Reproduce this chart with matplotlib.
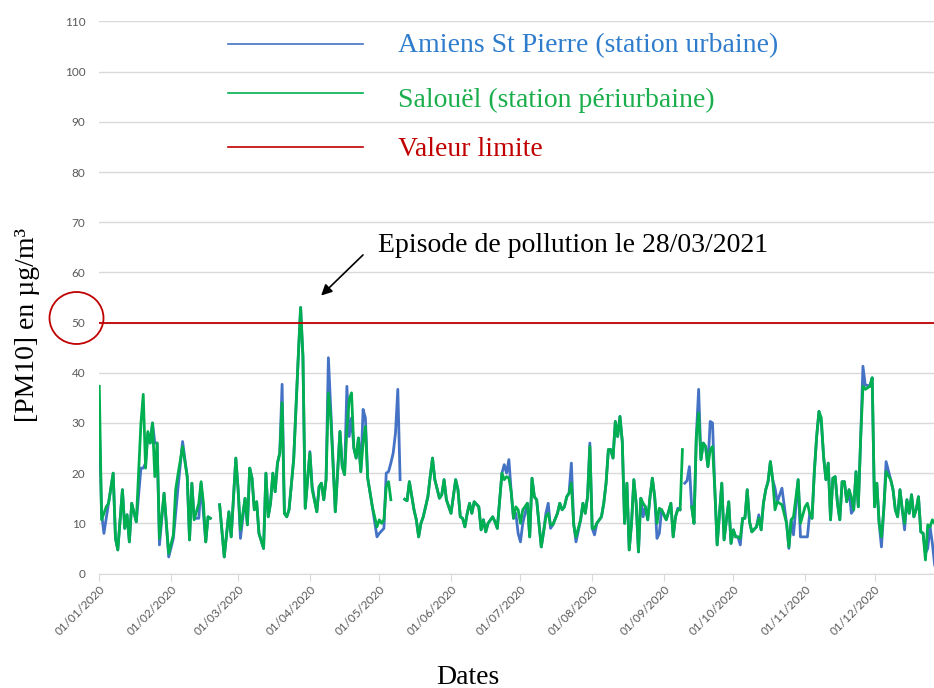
import numpy as np
import matplotlib.pyplot as plt
import matplotlib.dates as mdates
from matplotlib.patches import Ellipse
from matplotlib.lines import Line2D

nan = np.nan

# jour de l'annee (0 = 01/01/2020)
jours = [
    0, 1, 2, 3, 4, 6, 7, 8, 10, 11, 12, 13, 14, 16, 18, 19, 20, 21, 22, 23, 24, 25, 26, 28, 30,
    32, 33, 34, 36, 38, 39, 40, 41, 43, 44, 45, 46, 47, 48, 49, 52, 54, 56, 57, 59,
    60, 61, 63, 64, 65, 66, 67, 68, 69, 71, 72, 73, 74, 75, 76, 77, 78, 79, 80, 81, 82, 84, 86, 87, 88, 89,
    91, 92, 94, 95, 96, 97, 98, 99, 100, 102, 104, 105, 106, 107, 108, 109, 110, 111, 112, 113, 114, 115, 116, 118, 120,
    121, 122, 123, 124, 125, 126, 127, 128, 129, 130, 131, 132, 133, 134, 136, 137, 138, 139, 140, 142, 143, 144, 145, 147, 148, 149, 150,
    152, 154, 155, 156, 157, 158, 159, 160, 161, 162, 164, 165, 166, 167, 168, 170, 171, 172, 174, 175, 176, 177, 178, 179, 180, 181,
    182, 183, 185, 186, 187, 188, 189, 190, 191, 192, 193, 194, 195, 196, 198, 199, 200, 201, 202, 203, 204, 205, 206, 208, 209, 210, 211, 212,
    213, 214, 215, 217, 218, 219, 220, 221, 222, 223, 224, 225, 226, 227, 228, 229, 230, 231, 232, 233, 234, 235, 236, 237, 238, 239, 240, 241, 242, 243,
    245, 246, 247, 248, 249, 250, 251, 252, 253, 254, 255, 256, 257, 258, 259, 260, 261, 262, 263, 264, 265, 266, 267, 269, 270, 271, 272, 273,
    274, 275, 276, 277, 278, 279, 280, 281, 282, 284, 285, 286, 287, 288, 289, 290, 291, 292, 293, 295, 297, 298, 299, 300, 302, 303,
    305, 306, 307, 308, 309, 310, 311, 312, 313, 314, 315, 316, 317, 318, 319, 320, 321, 322, 323, 324, 325, 326, 327, 328, 329, 330, 331, 332, 333, 334,
    335, 336, 337, 338, 339, 340, 342, 343, 344, 345, 346, 347, 348, 349, 350, 351, 352, 353, 354, 355, 356, 357, 358, 359, 360, 361,
]

# Salouel (station periurbaine)
salouel = [
    37.3, 10.7, 12, 13.3, 14, 20, 7, 4.7, 16.7, 9, 11.7, 6.3, 14, 10.3, 30, 35.7, 21, 28.3, 26, 30, 19.3, 26, 7, 16, 4,
    7.7, 16.7, 19.7, 25.3, 19.3, 6.7, 18, 10.7, 14, 18.3, 14, 6.3, 11.3, 11, nan, 13.7, 3.3, 12.3, 7.3, 23,
    16.7, 8.7, 15, 9.7, 21, 19, 12.7, 14.3, 8, 5, 20, 11.3, 14, 20, 16.3, 22, 24, 34, 12, 11.3, 12.7, 22.7, 43.3, 53, 43.3, 13,
    24, 16.7, 12.3, 17.3, 18, 14.7, 18.7, 36, 31.3, 12.3, 28.3, 21.3, 19.7, 28.7, 34.7, 36, 25, 23, 27, 20.3, 26, 29.3, 19, 13.3, 9.3,
    10.7, 10, 10.7, 17.3, 18.3, 14.7, nan, nan, nan, nan, nan, 14.8, 14.5, 18.3, 12.7, 10.7, 7.3, 10, 11.3, 15.3, 19.3, 23, 18.7, 15, 15.7, 18.7, 14.7,
    12, 18.7, 16.7, 11.3, 11, 9.3, 12, 14, 12, 14.3, 13.3, 8.7, 10.7, 8.3, 10, 11.3, 10.3, 9, 20, 18.7, 19.3, 19, 16.3, 11, 13.3, 12.7,
    10, 12.7, 14, 7.3, 19, 15.3, 14.7, 10, 5.3, 8.3, 11.3, 12, 9.7, 9.7, 12, 14, 12.7, 13.3, 15.3, 16, 18, 9.7, 7.3, 10.7, 14, 12, 15.3, 25.3,
    9, 9, 10, 11.3, 14, 18, 24.7, 24.7, 23, 30.3, 27.3, 31.3, 26.3, 10, 18, 4.7, 10, 18.7, 14, 4.3, 15, 14, 13.3, 10.7, 15.3, 19, 15.3, 10, 13, 12.7,
    10.7, 12.3, 14, 7.3, 11.3, 12.7, 12.7, 24.7, nan, nan, nan, 13.3, 10, 27.3, 32, 22.7, 26, 25.3, 21.3, 24.7, 25.3, 16.7, 5.7, 18, 6.7, 10.7, 14.3, 6,
    8.7, 7.3, 7.3, 7, 11, 11, 16.7, 10.3, 8.3, 9.3, 11, 8.7, 14, 16.7, 18.3, 22.3, 18.7, 12.7, 14.3, 13.7, 10, 5.3, 10.7, 11.3, 18.7, 10,
    13.3, 14, 12, 11, 20.3, 27.3, 32.3, 31, 23.3, 18.7, 22, 10.7, 19, 19.3, 14, 10.7, 18.3, 18.3, 14.3, 16.7, 15.3, 12.7, 20.3, 13.3, 26.7, 37.3, 36.7, 37, 37.3, 39,
    13.3, 18, 10, 7.3, 12.7, 20.3, 18.7, 16.7, 12.7, 11.3, 16.7, 12.7, 10, 14.7, 12, 15.7, 11.3, 12.7, 15.3, 8.3, 8, 2.7, 9.7, 9.3, 10.7, 10,
]

# Amiens St Pierre (station urbaine)
amiens = [
    29.7, 12, 8, 11, 14, 20, 7, 4.7, 16.7, 9, 11.7, 6.3, 14, 10.3, 21, 21, 22, 28, 26, 30, 26, 26, 5.7, 16, 3.3,
    7, 12, 17, 26.3, 19.3, 6.7, 18, 11, 11, 18, 12, 6.3, 11.3, 11, nan, 13.7, 3.3, 12.3, 7.3, 23,
    16.7, 7, 15, 9.7, 21, 19, 12.7, 14.3, 8, 5, 20, 11.3, 14, 20, 16.3, 22, 24, 37.7, 12, 11.3, 12.7, 22.7, 43.3, 53, 43.3, 13,
    24.3, 17.3, 12.3, 17.3, 18, 14.7, 18.7, 43, 33, 12.3, 28.3, 21.3, 19.7, 37.3, 27.3, 31, 25, 23, 27, 20.3, 32.7, 31, 19, 13.3, 7.3,
    8, 8.5, 9, 20, 20.3, 22, 24, 28, 36.7, 18.7, nan, 14.8, 14.5, 18.3, 12.7, 10.7, 7.3, 10, 11.3, 15.3, 19.3, 23, 18.7, 15, 15.7, 18.7, 14.7,
    12, 18.7, 16.7, 11.3, 11, 9.3, 12, 14, 12, 14.3, 13.3, 8.7, 10.7, 8.3, 10, 11.3, 10.3, 9, 20, 21.7, 20, 22.7, 16.3, 11, 12, 8,
    6.3, 10, 14, 7.3, 19, 15.3, 14.7, 10, 5.3, 8.3, 12, 14, 9, 9.7, 12, 14, 12.7, 13.3, 15.3, 16, 22, 10, 6.3, 10.7, 14, 12, 15.3, 26,
    9, 7.7, 10, 11.3, 14, 18, 24.7, 24.7, 23, 30.3, 27.3, 31.3, 26.3, 10, 18, 4.7, 10, 18.7, 14, 4.3, 15, 11.3, 13.3, 10.7, 15.3, 19, 15.3, 7, 8, 12.7,
    10.7, 12.3, 14, 7.3, 11.3, 13, 12.7, nan, 18, 18.5, 21.3, 13.3, 10, 27.3, 36.7, 22.7, 26, 25.3, 21.3, 30.3, 30, 16.7, 5.7, 18, 6.7, 10.7, 14.3, 6,
    8.7, 7.3, 7.3, 5.7, 11, 11, 16.7, 10.3, 8.3, 9.3, 11.7, 8.7, 14, 16.7, 18.3, 22.3, 18.7, 17, 14.3, 17, 10, 5, 10.7, 7.7, 18.7, 7.3,
    7.3, 7.3, 12, 11, 20.3, 27.3, 32.3, 30, 23.3, 18.7, 22, 10.7, 19, 19.3, 14, 10.7, 18.3, 18.3, 14.3, 16.7, 12, 12.7, 20.3, 13.3, 26.7, 41.3, 37.5, 37.5, 37.3, 39,
    13.3, 18, 10, 5.3, 12.7, 22.3, 18.7, 16.7, 12.7, 11.3, 16.7, 12.7, 8.7, 14.7, 12, 15.7, 11.3, 12.7, 15.3, 8.3, 8, 4, 5, 9.3, 6, 1.7,
]

valeur_limite = 50
legende = ['Amiens St Pierre (station urbaine)', 'Salouël (station périurbaine)', 'Valeur limite']
couleurs = ['#4472c4', '#00b050', '#c00000']
couleurs_txt = ['#2f7ccc', '#1aaf4c', '#c00000']

dates = np.datetime64('2020-01-01') + np.array(jours)
serif = 'Liberation Serif'

fig = plt.figure(figsize=(9.34, 6.88), dpi=100)
ax = fig.add_axes([0.1063, 0.1664, 0.8937, 0.8024])

ax.plot(dates, amiens, color=couleurs[0], lw=2.0)
ax.plot(dates, salouel, color=couleurs[1], lw=2.0)
ax.axhline(valeur_limite, color=couleurs[2], lw=1.3)

ax.set_ylim(0, 110)
ax.set_yticks(range(0, 111, 10))
ax.set_xlim(np.datetime64('2020-01-01'), np.datetime64('2020-12-26T17:00'))
ax.grid(axis='y', color='#d9d9d9', lw=1)
ax.set_axisbelow(True)
for s in ['top', 'right', 'left']:
    ax.spines[s].set_visible(False)
ax.spines['bottom'].set_color('#d9d9d9')

ax.xaxis.set_major_locator(mdates.MonthLocator())
ax.xaxis.set_major_formatter(mdates.DateFormatter('%d/%m/%Y'))
ax.tick_params(axis='y', length=0, pad=10, labelcolor='#595959', labelsize=8.5)
ax.tick_params(axis='x', length=5, color='#d9d9d9', pad=2, labelcolor='#595959', labelsize=8.5)
for lab in ax.get_xticklabels() + ax.get_yticklabels():
    lab.set_family(['Lato', 'DejaVu Sans'])
for lab in ax.get_xticklabels():
    lab.set_rotation(45)
    lab.set_ha('right')
    lab.set_rotation_mode('anchor')

# legende
W, H = 934, 688
for i, y in enumerate([44, 93, 147]):
    fig.add_artist(Line2D([228 / W, 363 / W], [1 - y / H, 1 - y / H], color=couleurs[i], lw=1.2))
for i, y in enumerate([46, 100, 150]):
    fig.text(398 / W, 1 - y / H, legende[i], color=couleurs_txt[i], fontsize=20,
             family=serif, va='center', ha='left')

# episode de pollution
fig.text(378 / W, 1 - 245 / H, 'Episode de pollution le 28/03/2021', fontsize=20,
         family=serif, va='center', ha='left')
ax.annotate('', xy=(np.datetime64('2020-04-05'), 55), xytext=(365 / W, 1 - 253 / H),
            textcoords='figure fraction',
            arrowprops=dict(arrowstyle='-|>', color='black', lw=1.2, mutation_scale=16))

# cercle autour de 50
fig.add_artist(Ellipse((76.5 / W, 1 - 318 / H), 54 / W, 52 / H, transform=fig.transFigure,
                       fill=False, edgecolor='#c00000', lw=1.3))

fig.text(28 / W, 1 - 325 / H, '[PM10] en µg/m³', rotation=90, fontsize=20,
         family=serif, va='center', ha='center')
fig.text(468 / W, 1 - 677 / H, 'Dates', fontsize=20, family=serif, va='center', ha='center')

fig.savefig('out.png', dpi=100)
